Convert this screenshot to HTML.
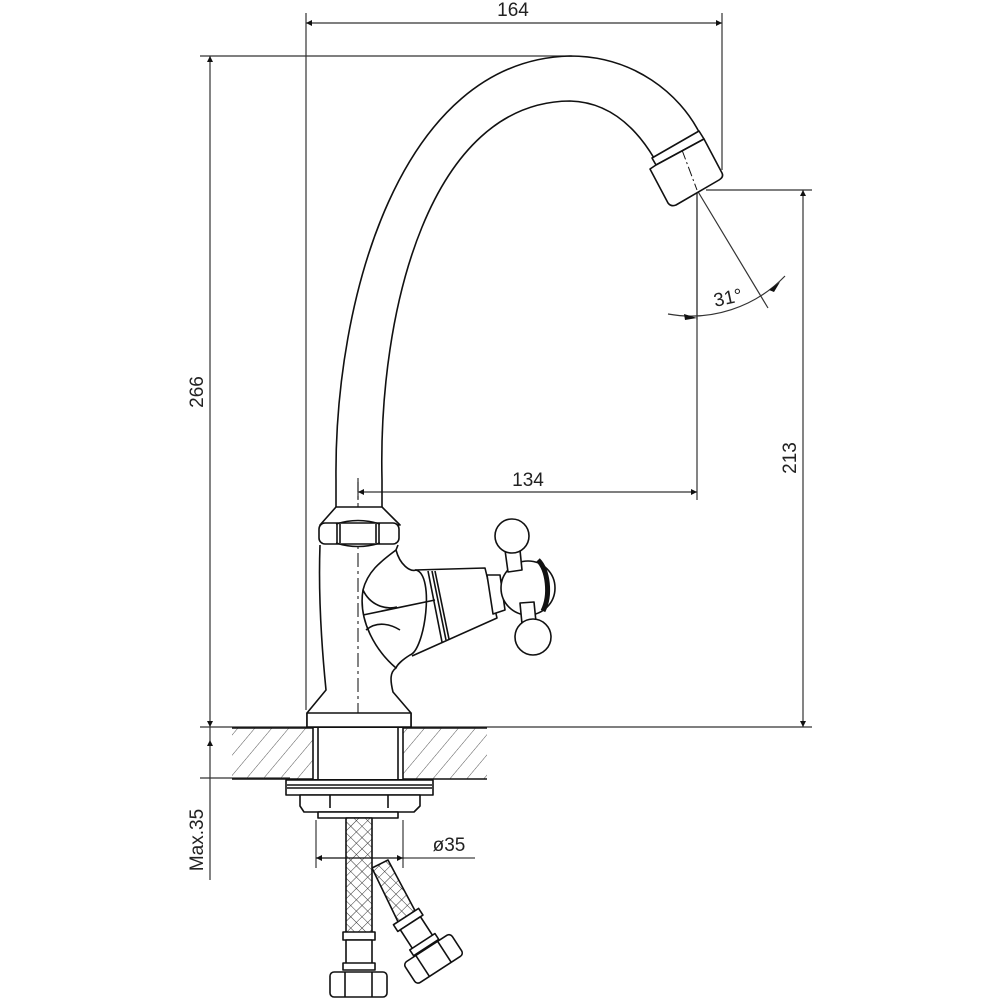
<!DOCTYPE html>
<html><head><meta charset="utf-8"><style>
html,body{margin:0;padding:0;background:#fff}
svg{display:block}
text{font-family:"Liberation Sans",sans-serif;font-size:19px;fill:#222}
</style></head><body>
<svg width="1000" height="1000" viewBox="0 0 1000 1000" xmlns="http://www.w3.org/2000/svg">
<defs>
<pattern id="hatch" width="13" height="13" patternUnits="userSpaceOnUse" patternTransform="rotate(40)">
<line x1="0" y1="0" x2="0" y2="13" stroke="#444" stroke-width="0.9"/>
</pattern>
<pattern id="mesh" width="8" height="8" patternUnits="userSpaceOnUse" patternTransform="rotate(45)">
<rect width="8" height="8" fill="#fff"/>
<line x1="0" y1="0" x2="8" y2="0" stroke="#333" stroke-width="1"/>
<line x1="0" y1="0" x2="0" y2="8" stroke="#333" stroke-width="1"/>
</pattern>
<marker id="ar" viewBox="0 0 10 10" refX="10" refY="5" markerWidth="12" markerHeight="6" orient="auto-start-reverse" markerUnits="userSpaceOnUse">
<path d="M0,0 L10,5 L0,10 z" fill="#111"/>
</marker>
</defs>
<g stroke="#333" stroke-width="1.2" fill="none">
<line x1="306" y1="13" x2="306" y2="710"/>
<line x1="722" y1="13" x2="722" y2="170"/>
<line x1="306" y1="23" x2="722" y2="23" marker-start="url(#ar)" marker-end="url(#ar)"/>
<line x1="200" y1="56" x2="572" y2="56"/>
<line x1="210" y1="56" x2="210" y2="727" marker-start="url(#ar)" marker-end="url(#ar)"/>
<line x1="200" y1="727" x2="812" y2="727"/>
<line x1="210" y1="740" x2="210" y2="778" marker-start="url(#ar)"/>
<line x1="210" y1="727" x2="210" y2="740"/>
<line x1="200" y1="778" x2="290" y2="778"/>
<line x1="210" y1="778" x2="210" y2="880"/>
<line x1="706" y1="190" x2="812" y2="190"/>
<line x1="803" y1="190" x2="803" y2="727" marker-start="url(#ar)" marker-end="url(#ar)"/>
<line x1="697" y1="190" x2="697" y2="500"/>
<line x1="358" y1="492" x2="697" y2="492" marker-start="url(#ar)" marker-end="url(#ar)"/>
<line x1="358" y1="482" x2="358" y2="500"/>
<line x1="697" y1="190" x2="768" y2="308"/>
<path d="M668,314 A130,130 0 0 0 785,276"/>
<line x1="697" y1="192" x2="697" y2="320"/>
<line x1="358" y1="478" x2="358" y2="740" stroke-dasharray="14,4,3,4"/>
</g>
<g fill="#111">
<path d="M697,318 L684,314 L685,320z"/>
<path d="M769,290 L780,282 L774,292z"/>
</g>
<text x="513" y="16" text-anchor="middle">164</text>
<text x="528" y="486" text-anchor="middle">134</text>
<text x="728" y="304" text-anchor="middle" transform="rotate(-12 728 298)">31°</text>
<text transform="translate(203,392) rotate(-90)" text-anchor="middle">266</text>
<text transform="translate(796,458) rotate(-90)" text-anchor="middle">213</text>
<text transform="translate(203,840) rotate(-90)" text-anchor="middle">Max.35</text>
<text x="449" y="851" text-anchor="middle">ø35</text>

<g stroke="#111" stroke-width="1.6" fill="none" stroke-linejoin="round">
<path d="M336,507 L336,480 C334,300 400,60 570,56 C635,56 680,95 699,132"/>
<path d="M382,507 L382,480 C378,310 430,102 570,101 C610,102 636,128 654,158"/>
<path d="M652,158 L699,131 L704,139 L656,165 Z" fill="#fff"/>
<path d="M656,165 L704,139 L722,173 Q724,177 719,180 L676,205 Q671,207 668,203 L650,169 Z" fill="#fff"/>
<line x1="682" y1="150" x2="697" y2="190" stroke-width="1" stroke-dasharray="10,3,2,3"/>
<path d="M336,507 L382,507 L400,525 L320,525 Z" fill="#fff"/>
<rect x="319" y="523" width="80" height="21" rx="6" fill="#fff"/>
<path d="M336,524 Q358,517 380,524 M336,543 Q358,550 380,543"/>
<line x1="337" y1="524" x2="337" y2="543"/><line x1="340" y1="524" x2="340" y2="543"/>
<line x1="376" y1="524" x2="376" y2="543"/><line x1="379" y1="524" x2="379" y2="543"/>
<path d="M320,545 C318,600 323,660 326,690 L307,713 L307,727 L411,727 L411,713 L393,692 C390,680 390,672 396,668 C375,650 358,620 363,590 C368,570 383,560 396,550 L398,545"/>
<rect x="307" y="713" width="104" height="14" fill="#fff"/>
<path d="M396,550 C400,565 410,572 416,570 C435,575 425,650 410,655 C402,660 397,665 396,668"/>
<path d="M363,590 C370,605 385,610 397,607 M363,615 L435,600 M366,630 C378,620 392,625 400,630"/>
<path d="M415,570 L485,568 L497,618 L412,656"/>
<line x1="428" y1="571" x2="442" y2="642"/>
<line x1="432" y1="571" x2="446" y2="640"/>
<line x1="435" y1="571" x2="449" y2="639"/>
<path d="M487,575 L500,575 L505,610 L493,614 Z" fill="#fff"/>
<circle cx="528" cy="588" r="27" fill="#fff"/>
<path d="M538,560 C548,570 551,595 543,611" stroke-width="5"/>
<path d="M505,550 L520,550 L522,570 L508,572 Z" fill="#fff"/>
<circle cx="512" cy="536" r="17" fill="#fff"/>
<path d="M520,603 L534,602 L536,622 L522,624 Z" fill="#fff"/>
<circle cx="533" cy="637" r="18" fill="#fff"/>
<rect x="232" y="728" width="255" height="51" fill="url(#hatch)" stroke="none"/>
<line x1="232" y1="728" x2="487" y2="728"/>
<line x1="232" y1="779" x2="487" y2="779"/>
<rect x="313" y="728" width="90" height="51" fill="#fff" stroke="none"/>
<line x1="313" y1="728" x2="313" y2="779"/><line x1="318" y1="728" x2="318" y2="779"/>
<line x1="403" y1="728" x2="403" y2="779"/><line x1="398" y1="728" x2="398" y2="779"/>
<rect x="286" y="780" width="147" height="15" fill="#fff"/>
<line x1="287" y1="785" x2="432" y2="785"/><line x1="287" y1="788" x2="432" y2="788"/>
<path d="M300,795 L420,795 L420,806 L414,812 L304,812 L300,806 Z" fill="#fff"/>
<line x1="330" y1="795" x2="330" y2="808"/><line x1="388" y1="795" x2="388" y2="808"/>
<rect x="318" y="812" width="80" height="6" fill="#fff"/>
<path d="M372,868 L388,860 L420,920 L402,930 Z" fill="url(#mesh)"/>
<rect x="346" y="818" width="26" height="117" fill="url(#mesh)"/>
<line x1="316" y1="858" x2="403" y2="858" stroke-width="1.2" marker-start="url(#ar)" marker-end="url(#ar)"/>
<line x1="316" y1="820" x2="316" y2="868" stroke-width="1"/>
<line x1="403" y1="820" x2="403" y2="868" stroke-width="1"/>
<line x1="403" y1="858" x2="475" y2="858" stroke-width="1"/>
<rect x="343" y="932" width="32" height="8" fill="#fff"/>
<rect x="346" y="940" width="26" height="25" fill="#fff"/>
<rect x="343" y="963" width="32" height="7" fill="#fff"/>
<rect x="330" y="972" width="57" height="25" rx="4" fill="#fff"/>
<line x1="345" y1="972" x2="345" y2="997"/><line x1="372" y1="972" x2="372" y2="997"/>
<g transform="translate(418,935) rotate(-33)">
<rect x="-15" y="-22" width="30" height="8" fill="#fff"/>
<rect x="-12" y="-14" width="24" height="24" fill="#fff"/>
<rect x="-15" y="8" width="30" height="7" fill="#fff"/>
<rect x="-28" y="16" width="56" height="25" rx="4" fill="#fff"/>
<line x1="-13" y1="16" x2="-13" y2="41"/><line x1="13" y1="16" x2="13" y2="41"/>
</g>
</g>
</svg>
</body></html>
